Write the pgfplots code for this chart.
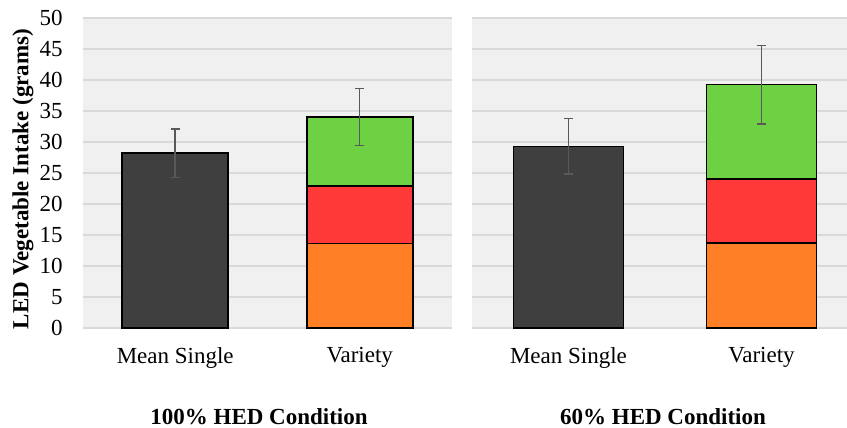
\documentclass[border=0pt]{standalone}
\usepackage{pgfplots}
\pgfplotsset{compat=1.18}
\usepackage{fontspec}
\setmainfont{Liberation Serif}

\definecolor{bgc}{HTML}{F0F0F0}
\definecolor{gridc}{HTML}{D9D9D9}
\definecolor{darkc}{HTML}{3F3F3F}
\definecolor{orangec}{HTML}{FF7F27}
\definecolor{redc}{HTML}{FF3838}
\definecolor{greenc}{HTML}{6ED043}
\definecolor{errc}{HTML}{595959}

\newcommand{\lblfont}{\fontsize{11.5}{13.8}\selectfont}

\pgfplotsset{
  panel/.style={
    scale only axis,
    anchor=south west,
    height=155pt,
    ymin=0, ymax=50,
    ytick={0,5,...,50},
    xtick={0,1},
    xticklabels={Mean Single, Variety},
    axis background/.style={fill=bgc},
    axis line style={draw=none},
    ymajorgrids,
    grid style={draw=gridc, line width=0.75pt},
    major tick length=0pt,
    tick label style={font=\lblfont},
    /pgf/number format/assume math mode=true,
    xticklabel style={yshift=-6pt},
    yticklabel style={xshift=-6.7pt},
  },
  bars/.style={
    ybar, bar width=#1, bar shift=0pt,
    draw=black, line width=0.8pt,
    error bars/error bar style={draw=errc, line width=0.75pt},
    error bars/error mark options={rotate=90, draw=errc, line width=0.75pt, mark size=2.25pt},
  },
}

\begin{document}
\begin{tikzpicture}
\useasboundingbox (0,0) rectangle (423.5pt,-214pt);

% 100% HED condition
\begin{axis}[panel, at={(41.5pt,-164pt)}, width=184.5pt,
  xmin=-0.5, xmax=1.5]
  \addplot[bars=53pt, fill=darkc, error bars/.cd, y dir=both, y explicit]
    coordinates {(0,28.2) +- (0,3.9)};
  \addplot[bars=53pt, fill=greenc, error bars/.cd, y dir=both, y explicit]
    coordinates {(1,34.0) +- (0,4.6)};
  \addplot[bars=53pt, fill=redc] coordinates {(1,22.9)};
  \addplot[bars=53pt, fill=orangec] coordinates {(1,13.6)};
\end{axis}

% 60% HED condition
\begin{axis}[panel, at={(236pt,-164pt)}, width=187.5pt,
  xmin=-0.5, xmax=1.443, yticklabels={}]
  \addplot[bars=55pt, fill=darkc, error bars/.cd, y dir=both, y explicit]
    coordinates {(0,29.3) +- (0,4.5)};
  \addplot[bars=55pt, fill=greenc, error bars/.cd, y dir=both, y explicit]
    coordinates {(1,39.25) +- (0,6.35)};
  \addplot[bars=55pt, fill=redc] coordinates {(1,24.0)};
  \addplot[bars=55pt, fill=orangec] coordinates {(1,13.7)};
\end{axis}

\node[rotate=90, font=\lblfont\bfseries] at (11.5pt,-89.5pt)
  {LED Vegetable Intake (grams)};
\node[anchor=base, font=\lblfont\bfseries] at (129.5pt,-212.3pt)
  {100\% HED Condition};
\node[anchor=base, font=\lblfont\bfseries] at (331.5pt,-212.3pt)
  {60\% HED Condition};
\end{tikzpicture}
\end{document}
